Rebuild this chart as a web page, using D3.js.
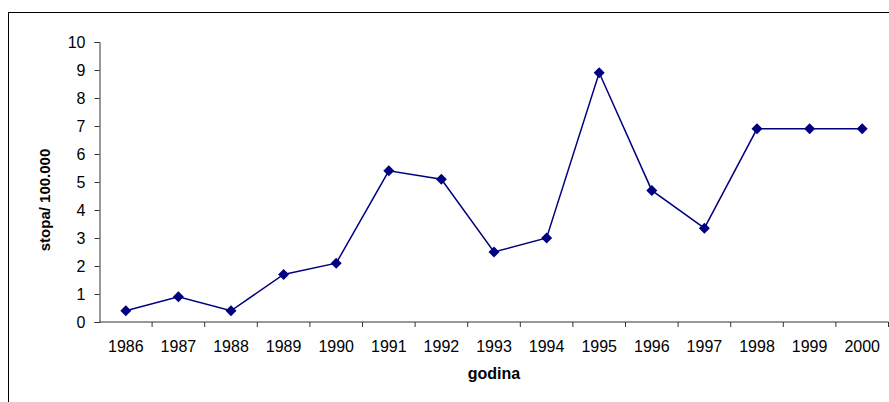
<!DOCTYPE html>
<html>
<head>
<meta charset="utf-8">
<script src="https://cdn.jsdelivr.net/npm/d3@7/dist/d3.min.js"></script>
<style>
  body { margin: 0; background: #fff; }
  svg { display: block; font-family: "Liberation Sans", Arial, sans-serif; }
</style>
</head>
<body>
<svg id="chart" width="889" height="402"></svg>
<script>
const years = ['1986', '1987', '1988', '1989', '1990', '1991', '1992', '1993',
  '1994', '1995', '1996', '1997', '1998', '1999', '2000'];
const rates = [0.4, 0.9, 0.4, 1.7, 2.1, 5.4, 5.1, 2.5, 3.0, 8.9, 4.7, 3.35, 6.9, 6.9, 6.9];
const yTicks = [0, 1, 2, 3, 4, 5, 6, 7, 8, 9, 10];

const svg = d3.select('#chart');
const plotLeft = 99.5;
const plotRight = 888.5;
const plotTop = 42;
const plotBottom = 322;

// outer frame
svg.append('rect')
  .attr('x', 8.5)
  .attr('y', 12.5)
  .attr('width', 900)
  .attr('height', 420)
  .attr('fill', 'none')
  .attr('stroke', '#000')
  .attr('stroke-width', 1);

const x = d3.scaleBand().domain(years).range([plotLeft, plotRight]);
const y = d3.scaleLinear().domain([0, 10]).range([plotBottom, plotTop]);

const yAxis = svg.append('g')
  .attr('transform', `translate(${plotLeft},0)`)
  .call(d3.axisLeft(y).tickValues(yTicks).tickSize(5).tickPadding(9));

const xAxis = svg.append('g')
  .attr('transform', `translate(0,${plotBottom})`)
  .call(d3.axisBottom(x).tickSize(0).tickPadding(18.5));

// category separators
svg.append('g')
  .selectAll('line')
  .data(years)
  .join('line')
  .attr('x1', (d) => x(d) + x.step())
  .attr('x2', (d) => x(d) + x.step())
  .attr('y1', plotBottom)
  .attr('y2', plotBottom + 5)
  .attr('stroke', '#333')
  .attr('stroke-width', 1);

[yAxis, xAxis].forEach((g) => {
  g.selectAll('path, line').attr('stroke', '#333');
  g.selectAll('text')
    .attr('fill', '#000')
    .style('font-size', '16px')
    .style('font-family', '"Liberation Sans", Arial, sans-serif');
});
xAxis.select('.domain').attr('d', `M${plotLeft},0H${plotRight}`);

const cx = (d, i) => x(years[i]) + x.bandwidth() / 2;

svg.append('path')
  .datum(rates)
  .attr('fill', 'none')
  .attr('stroke', '#000080')
  .attr('stroke-width', 1.5)
  .attr('d', d3.line().x(cx).y((d) => y(d)));

svg.append('g')
  .selectAll('path')
  .data(rates)
  .join('path')
  .attr('transform', (d, i) => `translate(${cx(d, i)},${y(d)})`)
  .attr('d', 'M0,-5.5L5.5,0L0,5.5L-5.5,0Z')
  .attr('fill', '#000080');

svg.append('text')
  .attr('x', (plotLeft + plotRight) / 2)
  .attr('y', 379)
  .attr('text-anchor', 'middle')
  .style('font-size', '16px')
  .style('font-weight', 'bold')
  .text('godina');

svg.append('text')
  .attr('transform', 'translate(50,200) rotate(-90)')
  .attr('text-anchor', 'middle')
  .style('font-size', '15px')
  .style('font-weight', 'bold')
  .text('stopa/ 100.000');
</script>
</body>
</html>
